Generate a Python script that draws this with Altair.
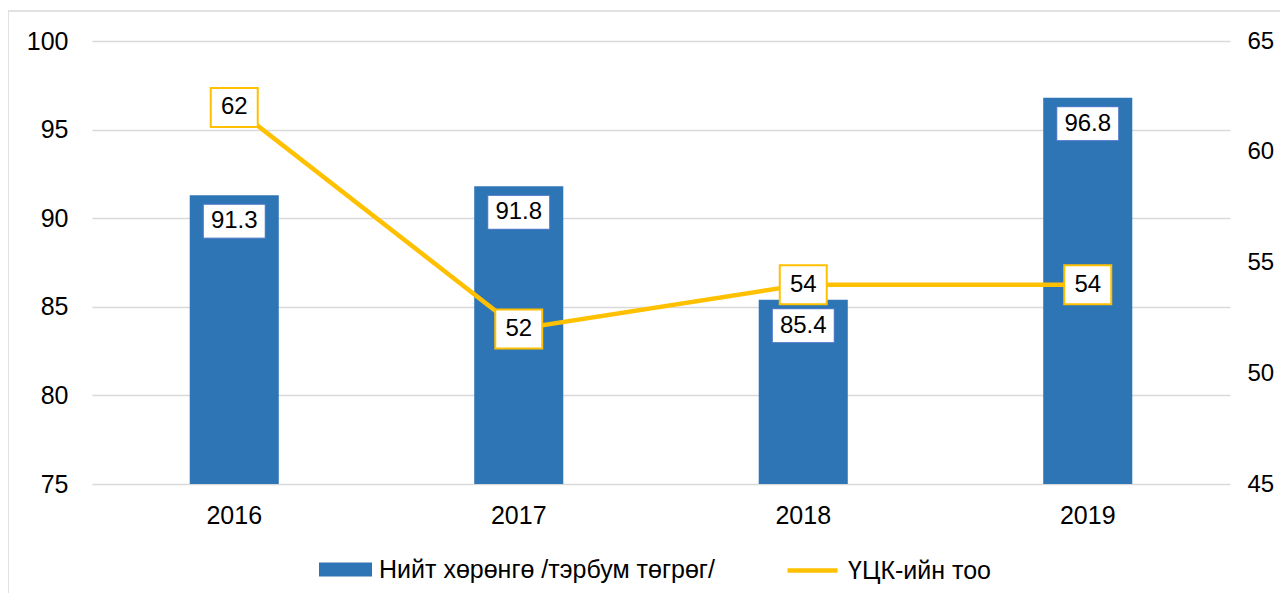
import altair as alt
import pandas as pd

# ---- data ----
years = ["2016", "2017", "2018", "2019"]
assets = [91.3, 91.8, 85.4, 96.8]
companies = [62, 52, 54, 54]
asset_name = "Нийт хөрөнгө /тэрбум төгрөг/"
company_name = "ҮЦК-ийн тоо"
left_ticks = [75, 80, 85, 90, 95, 100]
right_ticks = [45, 50, 55, 60, 65]

df = pd.DataFrame({
    "year": years,
    "assets": assets,
    "companies": companies,
    "a": [asset_name] * len(years),
    "c": [company_name] * len(years),
})

W, H = 1138, 443
FONT = "Liberation Sans"
BLUE = "#2E75B6"
GOLD = "#FFC000"

x = alt.X(
    "year:N", title=None, sort=years,
    scale=alt.Scale(paddingInner=0.687, paddingOuter=0.3435),
    axis=alt.Axis(labelFontSize=25, labelPadding=19, ticks=False, domain=False,
                  labelAngle=0, labelColor="#000000"),
)

left_scale = alt.Scale(domain=[75, 100], clamp=True, nice=False, zero=False)
right_scale = alt.Scale(domain=[45, 65], nice=False, zero=False)

left_axis = alt.Axis(values=left_ticks, ticks=False, domain=False, labelPadding=24,
                     gridColor="#d9d9d9", gridWidth=1.5, labelFontSize=25,
                     labelColor="#000000", orient="left", title=None)
right_axis = alt.Axis(values=right_ticks, ticks=False, domain=False, labelPadding=17,
                      grid=False, labelFontSize=24, labelColor="#000000",
                      orient="right", title=None)

y_left = alt.Y("assets:Q", title=None, scale=left_scale, axis=left_axis)
y_right = alt.Y("companies:Q", title=None, scale=right_scale, axis=right_axis)

base = alt.Chart(df)

frame = alt.Chart(pd.DataFrame({"f": [0]})).mark_rect(
    fill=None, stroke="#d9d9d9", strokeWidth=1.5
).encode(
    x=alt.value(-84), x2=alt.value(W + 60),
    y=alt.value(-30), y2=alt.value(H + 130),
)

bars = base.mark_bar().encode(
    x=x, y=y_left,
    fill=alt.Fill("a:N", scale=alt.Scale(domain=[asset_name], range=[BLUE]),
                  legend=alt.Legend(title=None, orient="none", legendX=227, legendY=502,
                                    symbolType="M-1,-0.264L1,-0.264L1,0.264L-1,0.264Z",
                                    symbolSize=2809, symbolStrokeWidth=0,
                                    labelFontSize=25, labelOffset=7, labelColor="#000000",
                                    labelLimit=600)),
)

bar_box = base.mark_point(
    shape="M-1,-0.548L1,-0.548L1,0.548L-1,0.548Z", size=3844, filled=True,
    fill="white", stroke="#4472C4", strokeWidth=1, opacity=1, yOffset=26,
).encode(x=x, y=y_left)

bar_text = base.mark_text(fontSize=24, dy=26, baseline="middle", color="#000000").encode(
    x=x, y=y_left, text=alt.Text("assets:Q", format=".1f"),
)

line = base.mark_line(strokeWidth=4.5).encode(
    x=x, y=y_right,
    stroke=alt.Stroke("c:N", scale=alt.Scale(domain=[company_name], range=[GOLD]),
                      legend=alt.Legend(title=None, orient="none", legendX=693, legendY=502,
                                        symbolType="stroke", symbolSize=2500,
                                        symbolStrokeWidth=4.5, labelFontSize=25,
                                        labelOffset=8, labelColor="#000000",
                                        labelLimit=600)),
)

line_box = base.mark_point(
    shape="M-1,-0.83L1,-0.83L1,0.83L-1,0.83Z", size=2209, filled=True,
    fill="white", stroke=GOLD, strokeWidth=2, opacity=1,
).encode(x=x, y=y_right)

line_text = base.mark_text(fontSize=24, baseline="middle", color="#000000").encode(
    x=x, y=y_right, text=alt.Text("companies:Q", format="d"),
)

left = alt.layer(bars, bar_box, bar_text)
right = alt.layer(line, line_box, line_text)

chart = alt.layer(frame, left, right).resolve_scale(
    y="independent", fill="independent", stroke="independent"
).properties(
    width=W, height=H,
    autosize=alt.AutoSizeParams(type="none"),
    padding={"left": 84, "top": 33, "right": 50, "bottom": 109},
).configure(font=FONT).configure_view(stroke=None)

chart.save("out.html", embed_options={"renderer": "svg", "actions": False})
